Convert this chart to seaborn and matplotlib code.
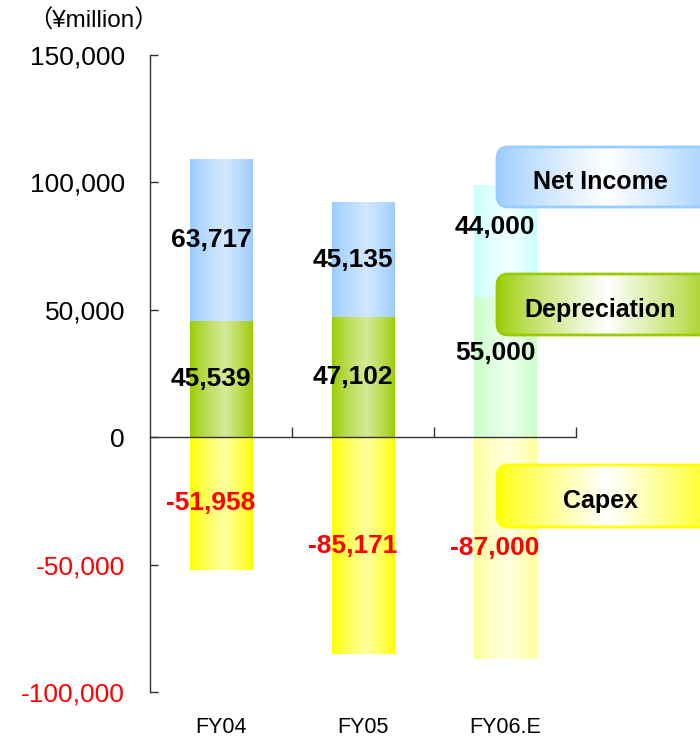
import matplotlib
matplotlib.use('Agg')

import numpy as np
import matplotlib.pyplot as plt
import seaborn as sns
from matplotlib.patches import FancyBboxPatch
from matplotlib.transforms import blended_transform_factory

# ------------------------------------------------------------------------
# data (yen million)
# ------------------------------------------------------------------------

years = ['FY04', 'FY05', 'FY06.E']
depreciation = [45539, 47102, 55000]
net_income = [63717, 45135, 44000]
capex = [-51958, -85171, -87000]

yticks = [-100000, -50000, 0, 50000, 100000, 150000]
legend_names = ['Net Income', 'Depreciation', 'Capex']

# colours: (edge, middle) per bar, last year is the lighter estimate
ni_cols = [('#99CCFF', '#D2E8FF'), ('#99CCFF', '#D2E8FF'), ('#C8FFFF', '#F2FFFF')]
dep_cols = [('#99CC00', '#D6E99A'), ('#99CC00', '#D6E99A'), ('#C8FFC8', '#EEFFEE')]
cap_cols = [('#FFFF00', '#FFFF9E'), ('#FFFF00', '#FFFF9E'), ('#FFFF99', '#FFFFE0')]
legend_cols = ['#99CCFF', '#99CC00', '#FFFF00']
# label nudge for the estimate column (labels sit a bit higher there)
label_nudge = [0, 0, 5500]


def gradient(edge, mid, peak=0.55, n=128):
    t = np.linspace(0, 1, n)
    w = np.where(t < peak, t / peak, (1 - t) / (1 - peak))
    w = np.clip(w, 0, 1) ** 0.8
    e = np.array(matplotlib.colors.to_rgb(edge))
    m = np.array(matplotlib.colors.to_rgb(mid))
    rgb = e[None, :] * (1 - w[:, None]) + m[None, :] * w[:, None]
    return rgb[None, :, :]


def fill_patch(ax, patch, edge, mid, z):
    x0 = patch.get_x()
    w = patch.get_width()
    y0 = patch.get_y()
    h = patch.get_height()
    lo, hi = min(y0, y0 + h), max(y0, y0 + h)
    patch.set_facecolor('none')
    patch.set_edgecolor('none')
    im = ax.imshow(gradient(edge, mid), extent=[x0, x0 + w, lo, hi],
                   aspect='auto', zorder=z, interpolation='bilinear')
    im.set_clip_path(patch)


sns.set_style('white')
plt.rcParams['font.family'] = ['Liberation Sans', 'Noto Sans CJK JP']
plt.rcParams['text.color'] = 'black'
plt.rcParams['ytick.color'] = 'black'
plt.rcParams['xtick.color'] = 'black'

fig = plt.figure(figsize=(7, 7.41), dpi=100)
ax = fig.add_axes([150 / 700, 1 - 692 / 741, 426 / 700, 637 / 741])

totals = [d + n for d, n in zip(depreciation, net_income)]
sns.barplot(x=years, y=totals, color='#99CCFF', width=0.44, errorbar=None,
            saturation=1, ax=ax)
sns.barplot(x=years, y=depreciation, color='#99CC00', width=0.44, errorbar=None,
            saturation=1, ax=ax)
sns.barplot(x=years, y=capex, color='#FFFF00', width=0.44, errorbar=None,
            saturation=1, ax=ax)

patches = list(ax.patches)
for i in range(3):
    fill_patch(ax, patches[i], *ni_cols[i], z=1)
    fill_patch(ax, patches[3 + i], *dep_cols[i], z=2)
    fill_patch(ax, patches[6 + i], *cap_cols[i], z=2)

# value labels
for i in range(3):
    ax.text(i - 0.07, depreciation[i] + net_income[i] / 2 + label_nudge[i], f'{net_income[i]:,}',
            ha='center', va='center', fontsize=19, weight='bold', color='black', zorder=5)
    ax.text(i - 0.07, depreciation[i] / 2 + label_nudge[i], f'{depreciation[i]:,}',
            ha='center', va='center', fontsize=19, weight='bold', color='black', zorder=5)
    ax.text(i - 0.07, capex[i] / 2, f'{capex[i]:,}',
            ha='center', va='center', fontsize=19, weight='bold', color='#FF0000', zorder=5)

# axes styling
ax.set_xlim(-0.5, 2.5)
ax.set_ylim(-100000, 150000)
ax.set_xlabel('')
ax.set_ylabel('')
for s in ['top', 'right']:
    ax.spines[s].set_visible(False)
ax.spines['bottom'].set_position(('data', 0))
ax.spines['bottom'].set_zorder(4)
for s in ['left', 'bottom']:
    ax.spines[s].set_color('#333333')
    ax.spines[s].set_linewidth(1.0)

ax.set_yticks(yticks)
ax.set_yticklabels([f'{v:,}' for v in yticks])
for lab, v in zip(ax.get_yticklabels(), yticks):
    lab.set_color('#FF0000' if v < 0 else 'black')
ax.tick_params(axis='y', direction='in', length=6, width=1, pad=18, labelsize=19,
               color='#333333', left=True)

ax.set_xticks([0, 1, 2])
ax.set_xticklabels([])
ax.set_xticks([0.5, 1.5, 2.5], minor=True)
ax.tick_params(axis='x', which='major', length=0)
ax.tick_params(axis='x', which='minor', direction='in', length=7, width=1,
               color='#333333', bottom=True)

trans = blended_transform_factory(ax.transData, ax.transAxes)
for i, yr in enumerate(years):
    ax.text(i, -0.055, yr, transform=trans, ha='center', va='center', fontsize=15.5)

fig.text(28 / 700, 1 - 21 / 741, '（¥million）', ha='left', va='center', fontsize=17.5)

# legend boxes on the right
lax = fig.add_axes([0, 0, 1, 1])
lax.set_xlim(0, 700)
lax.set_ylim(741, 0)
lax.axis('off')
box_rows = [(147, 207), (274, 335), (465, 527)]
for name, col, (top, bot) in zip(legend_names, legend_cols, box_rows):
    box = FancyBboxPatch((497, top), 220, bot - top,
                         boxstyle='round,pad=0,rounding_size=11',
                         fc='none', ec=col, lw=2, zorder=3)
    lax.add_patch(box)
    im = lax.imshow(gradient(col, '#FFFFFF', peak=0.5), extent=[497, 717, bot, top],
                    aspect='auto', zorder=2, interpolation='bilinear')
    im.set_clip_path(box)
    lax.text(600, (top + bot) / 2 + 5, name, ha='center', va='center',
             fontsize=18, weight='bold', color='black', zorder=4)
lax.set_xlim(0, 700)
lax.set_ylim(741, 0)

fig.savefig('out.png', dpi=100)
